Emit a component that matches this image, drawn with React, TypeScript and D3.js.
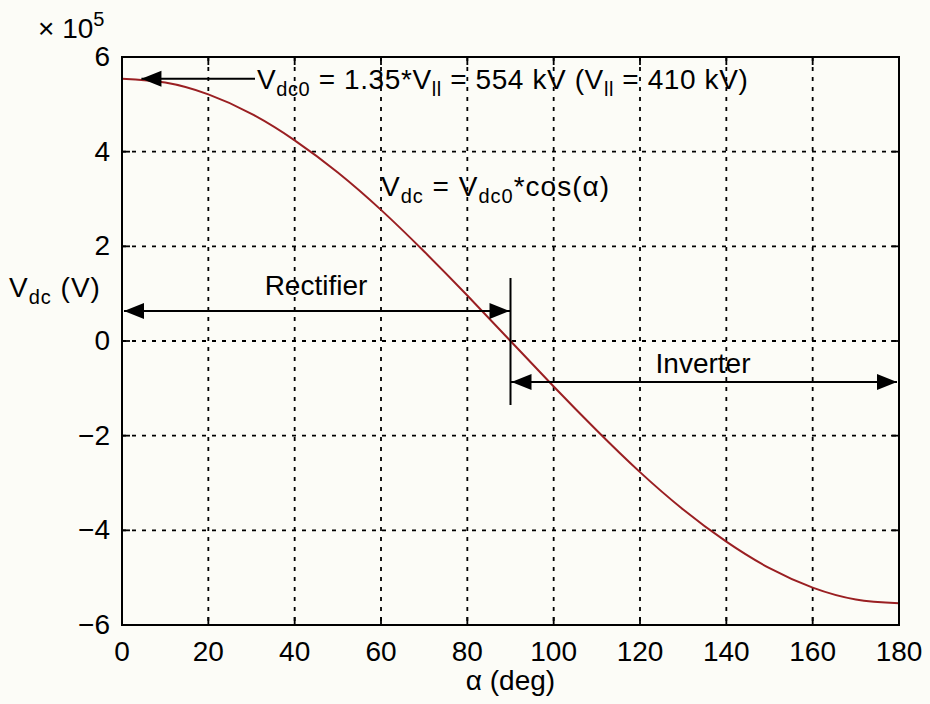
import React from "react";
import * as d3 from "d3";

const alphaDeg = [0, 10, 20, 30, 40, 50, 60, 70, 80, 90, 100, 110, 120, 130, 140, 150, 160, 170, 180];
const vdcE5 = [5.54, 5.46, 5.21, 4.8, 4.24, 3.56, 2.77, 1.89, 0.96, 0, -0.96, -1.89, -2.77, -3.56, -4.24, -4.8, -5.21, -5.46, -5.54];
const xTicks = [0, 20, 40, 60, 80, 100, 120, 140, 160, 180];
const yTicks = [-6, -4, -2, 0, 2, 4, 6];

const W = 930, H = 704;
const L = 122, R = 899, T = 57, B = 625;
const FONT = "'Liberation Sans', Arial, Helvetica, sans-serif";

function Arrow({ x, y, dir }: { x: number; y: number; dir: number }) {
  const len = 20, hw = 8;
  const p = `M${x},${y} L${x - dir * len},${y - hw} L${x - dir * len},${y + hw} Z`;
  return <path d={p} fill="#000" />;
}

export default function App() {
  const x = d3.scaleLinear().domain([0, 180]).range([L, R]);
  const y = d3.scaleLinear().domain([-6, 6]).range([B, T]);
  const line = d3
    .line<number>()
    .x((_, i) => x(alphaDeg[i]))
    .y((d) => y(d))
    .curve(d3.curveNatural);
  const tick = 8;
  const fs = 28;
  const sfs = 20;
  const sdy = 7;
  const x90 = x(90);
  const yRect = 311;
  const yInv = 382;
  const yTop = y(5.54);
  return (
    <svg width={W} height={H} style={{ position: "absolute", left: 0, top: 0, background: "#fcfcf7" }} fontFamily={FONT}>
      <rect x={0} y={0} width={W} height={H} fill="#fcfcf7" />
      {/* grid */}
      {xTicks.slice(1, -1).map((t) => (
        <line key={"gx" + t} x1={x(t)} x2={x(t)} y1={T} y2={B} stroke="#000" strokeWidth={1.8} strokeDasharray="4,6" />
      ))}
      {yTicks.slice(1, -1).map((t) => (
        <line key={"gy" + t} x1={L} x2={R} y1={y(t)} y2={y(t)} stroke="#000" strokeWidth={1.8} strokeDasharray="4,6" />
      ))}
      {/* ticks inward */}
      {xTicks.map((t) => (
        <g key={"tx" + t}>
          <line x1={x(t)} x2={x(t)} y1={B} y2={B - tick} stroke="#000" strokeWidth={1.8} />
          <line x1={x(t)} x2={x(t)} y1={T} y2={T + tick} stroke="#000" strokeWidth={1.8} />
          <text x={x(t)} y={B + 36} textAnchor="middle" fontSize={fs}>{t}</text>
        </g>
      ))}
      {yTicks.map((t) => (
        <g key={"ty" + t}>
          <line x1={L} x2={L + tick} y1={y(t)} y2={y(t)} stroke="#000" strokeWidth={1.8} />
          <line x1={R} x2={R - tick} y1={y(t)} y2={y(t)} stroke="#000" strokeWidth={1.8} />
          <text x={L - 12} y={y(t) + 9} textAnchor="end" fontSize={fs}>{t < 0 ? "\u2212" + Math.abs(t) : t}</text>
        </g>
      ))}
      {/* curve */}
      <path d={line(vdcE5) || ""} fill="none" stroke="#9a1f22" strokeWidth={2} />
      {/* frame */}
      <rect x={L} y={T} width={R - L} height={B - T} fill="none" stroke="#000" strokeWidth={2} />
      {/* exponent */}
      <text x={38} y={38} fontSize={fs}>
        {"\u00d7 10"}
        <tspan dy={-12} fontSize={sfs}>5</tspan>
      </text>
      {/* Vdc0 annotation */}
      <line x1={x(4.5)} x2={255} y1={yTop} y2={yTop} stroke="#000" strokeWidth={2} />
      <Arrow x={x(4.5)} y={yTop} dir={-1} />
      <text x={257} y={yTop + 10} fontSize={fs} letterSpacing={0.6}>
        V<tspan fontSize={sfs} dy={sdy}>dc0</tspan>
        <tspan dy={-sdy}>{" = 1.35*V"}</tspan>
        <tspan fontSize={sfs} dy={sdy}>ll</tspan>
        <tspan dy={-sdy}>{" = 554 kV (V"}</tspan>
        <tspan fontSize={sfs} dy={sdy}>ll</tspan>
        <tspan dy={-sdy}>{" = 410 kV)"}</tspan>
      </text>
      {/* Vdc formula */}
      <text x={381} y={196} fontSize={fs} letterSpacing={1}>
        V<tspan fontSize={sfs} dy={sdy}>dc</tspan>
        <tspan dy={-sdy}>{" = V"}</tspan>
        <tspan fontSize={sfs} dy={sdy}>dc0</tspan>
        <tspan dy={-sdy}>{"*cos(\u03b1)"}</tspan>
      </text>
      {/* Rectifier */}
      <line x1={L + 2} x2={x90} y1={yRect} y2={yRect} stroke="#000" strokeWidth={2} />
      <Arrow x={L + 2} y={yRect} dir={-1} />
      <Arrow x={x90 - 1} y={yRect} dir={1} />
      <text x={316} y={295} textAnchor="middle" fontSize={fs}>Rectifier</text>
      <line x1={x90} x2={x90} y1={278} y2={405} stroke="#000" strokeWidth={2} />
      {/* Inverter */}
      <line x1={x90} x2={R - 2} y1={yInv} y2={yInv} stroke="#000" strokeWidth={2} />
      <Arrow x={x90 + 1} y={yInv} dir={-1} />
      <Arrow x={R - 2} y={yInv} dir={1} />
      <text x={703} y={373} textAnchor="middle" fontSize={fs}>Inverter</text>
      {/* axis labels */}
      <text x={9} y={297} fontSize={fs} letterSpacing={1}>
        V<tspan fontSize={sfs} dy={sdy}>dc</tspan>
        <tspan dy={-sdy}>{" (V)"}</tspan>
      </text>
      <text x={x(90)} y={690} textAnchor="middle" fontSize={fs}>{"\u03b1 (deg)"}</text>
    </svg>
  );
}
